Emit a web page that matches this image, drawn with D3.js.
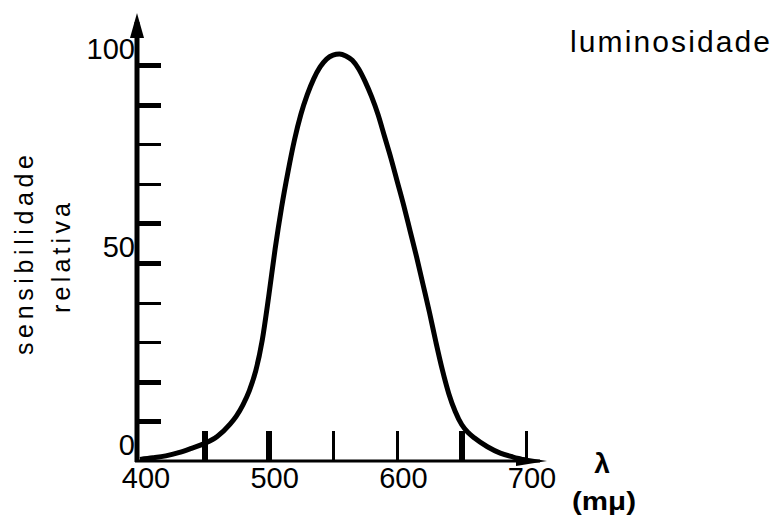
<!DOCTYPE html>
<html>
<head>
<meta charset="utf-8">
<script src="https://cdn.jsdelivr.net/npm/d3@7"></script>
<style>
body { margin: 0; background: #fff; }
text { font-family: "Liberation Sans", Arial, sans-serif; fill: #000; }
</style>
</head>
<body>
<div id="grafico"></div>
<script>
// curva de luminosidade (comprimento de onda em mµ)
const wavelength = [400, 410, 420, 430, 440, 450, 460, 470, 475, 480, 485, 490, 495, 500, 505, 510, 515, 520, 525, 530,
    535, 540, 545, 550, 555, 560, 565, 570, 575, 580, 585, 590, 595, 600, 605, 610, 615, 620, 625, 630,
    635, 640, 645, 650, 655, 660, 670, 680, 690, 700];
const sensitivity = [0.4, 0.8, 1.3, 2.1, 3.2, 4.4, 6.2, 9.3, 11.4, 14.2, 17.8, 22.8, 30.5, 41.5, 53.5, 64, 73, 81, 87.5, 92.5,
    96.5, 99.5, 101.5, 102.5, 102.8, 102.3, 101.2, 99, 95.8, 92, 87.5, 82, 76.5, 70.5, 64.5, 58, 51.5, 44.5, 37.5, 30,
    23, 17, 12.5, 9.2, 7.2, 5.8, 3.6, 2, 1, 0.2];

const yTicks = [10, 20, 30, 40, 50, 60, 70, 80, 90, 100];
const yTickLabels = [0, 50, 100];
const xTicks = [450, 500, 550, 600, 650, 700];
const xTickLabels = [400, 500, 600, 700];

const width = 776;
const height = 521;

const scaleX = d3.scaleLinear()
.domain([400, 700])
.range([140, 526]);

const scaleY = d3.scaleLinear()
.domain([0, 100])
.range([461, 65]);

const svg = d3.select('#grafico')
.append('svg')
.attr('width', width)
.attr('height', height);

const axisX0 = scaleX(400) - 3;

// marcas do eixo y (para dentro)
const yAxis = d3.axisRight(scaleY)
.tickValues(yTicks)
.tickSize(24)
.tickFormat('');

const groupAxisY = svg.append('g')
.attr('transform', `translate(${axisX0}, 0)`)
.call(yAxis);

groupAxisY.select('.domain').remove();
groupAxisY.selectAll('.tick line')
.attr('stroke', '#000')
.attr('shape-rendering', 'crispEdges')
.attr('stroke-width', d => ((d / 10 - 1) % 4 < 2) ? 5 : 3);

// marcas do eixo x (para cima)
const xAxis = d3.axisTop(scaleX)
.tickValues(xTicks)
.tickSize(30)
.tickFormat('');

const groupAxisX = svg.append('g')
.attr('transform', `translate(0, ${scaleY(0)})`)
.call(xAxis);

groupAxisX.select('.domain').remove();
groupAxisX.selectAll('.tick line')
.attr('stroke', '#000')
.attr('shape-rendering', 'crispEdges')
.attr('stroke-width', d => (d === 450 || d === 500 || d === 650) ? 6 : 3);

// linhas dos eixos com setas
svg.append('line')
.attr('x1', axisX0).attr('x2', axisX0)
.attr('y1', scaleY(0) + 1).attr('y2', 22)
.attr('stroke', '#000')
.attr('stroke-width', 5);

svg.append('path')
.attr('d', `M${axisX0},13 L${axisX0 - 7},38 L${axisX0 + 7},38 Z`)
.attr('fill', '#000');

svg.append('line')
.attr('x1', axisX0 - 2).attr('x2', 540)
.attr('y1', scaleY(0)).attr('y2', scaleY(0))
.attr('stroke', '#000')
.attr('stroke-width', 3);

svg.append('path')
.attr('d', `M547,${scaleY(0)} L516,${scaleY(0) - 5} L516,${scaleY(0) + 5} Z`)
.attr('fill', '#000');

// curva
const line = d3.line()
.x(d => scaleX(d[0]))
.y(d => scaleY(d[1]))
.curve(d3.curveMonotoneX);

svg.append('path')
.datum(wavelength.map((w, i) => [w, sensitivity[i]]))
.attr('d', line)
.attr('fill', 'none')
.attr('stroke', '#000')
.attr('stroke-width', 5)
.attr('stroke-linejoin', 'round');

// rótulos
svg.append('g')
.selectAll('text')
.data(yTickLabels)
.enter()
.append('text')
.attr('x', 135)
.attr('y', d => scaleY(d) - 6)
.attr('text-anchor', 'end')
.attr('font-size', 29)
.text(d => d);

svg.append('g')
.selectAll('text')
.data(xTickLabels)
.enter()
.append('text')
.attr('x', d => scaleX(d) + 6)
.attr('y', 488)
.attr('text-anchor', 'middle')
.attr('font-size', 29)
.text(d => d);

svg.append('text')
.attr('x', 570)
.attr('y', 52)
.attr('font-size', 30)
.attr('textLength', 200)
.attr('lengthAdjust', 'spacing')
.text('luminosidade');

svg.append('text')
.attr('transform', 'translate(33, 255) rotate(-90)')
.attr('text-anchor', 'middle')
.attr('font-size', 25)
.attr('textLength', 200)
.attr('lengthAdjust', 'spacing')
.text('sensibilidade');

svg.append('text')
.attr('transform', 'translate(70, 258) rotate(-90)')
.attr('text-anchor', 'middle')
.attr('font-size', 25)
.attr('textLength', 110)
.attr('lengthAdjust', 'spacing')
.text('relativa');

svg.append('text')
.attr('x', 602)
.attr('y', 473)
.attr('text-anchor', 'middle')
.attr('font-size', 28)
.attr('font-weight', 'bold')
.text('λ');

svg.append('text')
.attr('x', 604)
.attr('y', 510)
.attr('text-anchor', 'middle')
.attr('font-size', 25)
.attr('font-weight', 'bold')
.attr('textLength', 64)
.attr('lengthAdjust', 'spacingAndGlyphs')
.text('(mμ)');
</script>
</body>
</html>
